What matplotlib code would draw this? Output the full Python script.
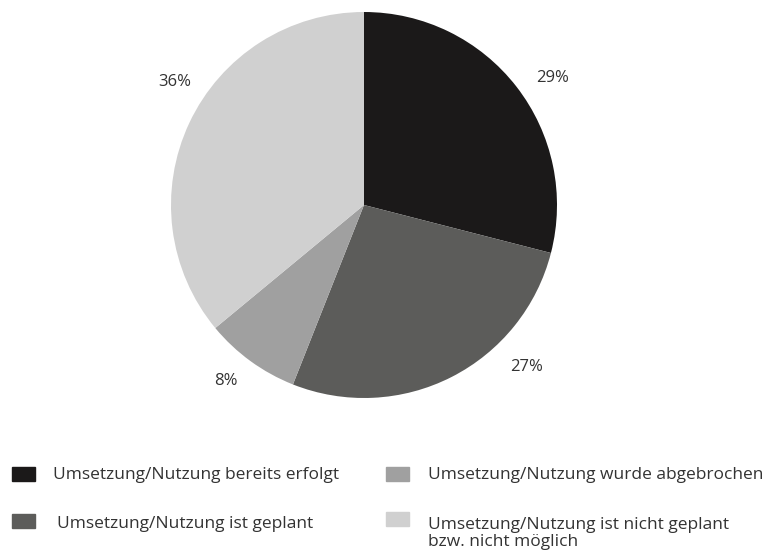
import matplotlib.pyplot as plt
import matplotlib.patches as p
import numpy as np

labels = [
    "Umsetzung/Nutzung bereits erfolgt",
    "Umsetzung/Nutzung ist geplant",
    "Umsetzung/Nutzung wurde abgebrochen",
    "Umsetzung/Nutzung ist nicht geplant\nbzw. nicht möglich",
]
shares = [29, 27, 8, 36]
colors = ["#1b1919", "#5c5c5a", "#a0a0a0", "#d0d0d0"]

plt.rcParams['font.family'] = ['Open Sans', 'DejaVu Sans']

fig = plt.figure(figsize=(7.68, 5.55), dpi=100)
ax = fig.add_axes([(364 - 193) / 768, 1 - 398 / 555, 386 / 768, 386 / 555])

wedges, texts, autotexts = ax.pie(shares, colors=colors, startangle=90, counterclock=False,
                                  autopct='%d%%', pctdistance=1.17,
                                  textprops=dict(fontsize=12, color="#333333"))
# percentage labels are not on the slice middles in the original
label_angles = [34, -45, -128, 147]
label_radius = [1.18, 1.19, 1.16, 1.17]
for t, a, r in zip(autotexts, label_angles, label_radius):
    t.set_position((r * np.cos(np.radians(a)), r * np.sin(np.radians(a))))
ax.set_xlim(-1, 1)
ax.set_ylim(-1, 1)
ax.set_aspect('equal')

# legend drawn by hand: two columns, squares aligned with first text line
# (baseline alignment of multi-line text uses the last line)
W, H = 768.0, 555.0
spots = [(12, 53, 474, 479), (12, 57, 521, 528), (386, 428, 474, 479), (386, 428, 519, 546)]
for (sx, tx, cy, base), lab, col in zip(spots, labels, colors):
    fig.patches.append(p.Rectangle((sx / W, 1 - (cy + 7) / H), 23 / W, 14 / H,
                                   color=col, transform=fig.transFigure, figure=fig))
    fig.text(tx / W, 1 - base / H, lab, fontsize=12.5, color="#333333",
             va='baseline', ha='left', linespacing=1.05)

fig.savefig("out.png", dpi=100)
